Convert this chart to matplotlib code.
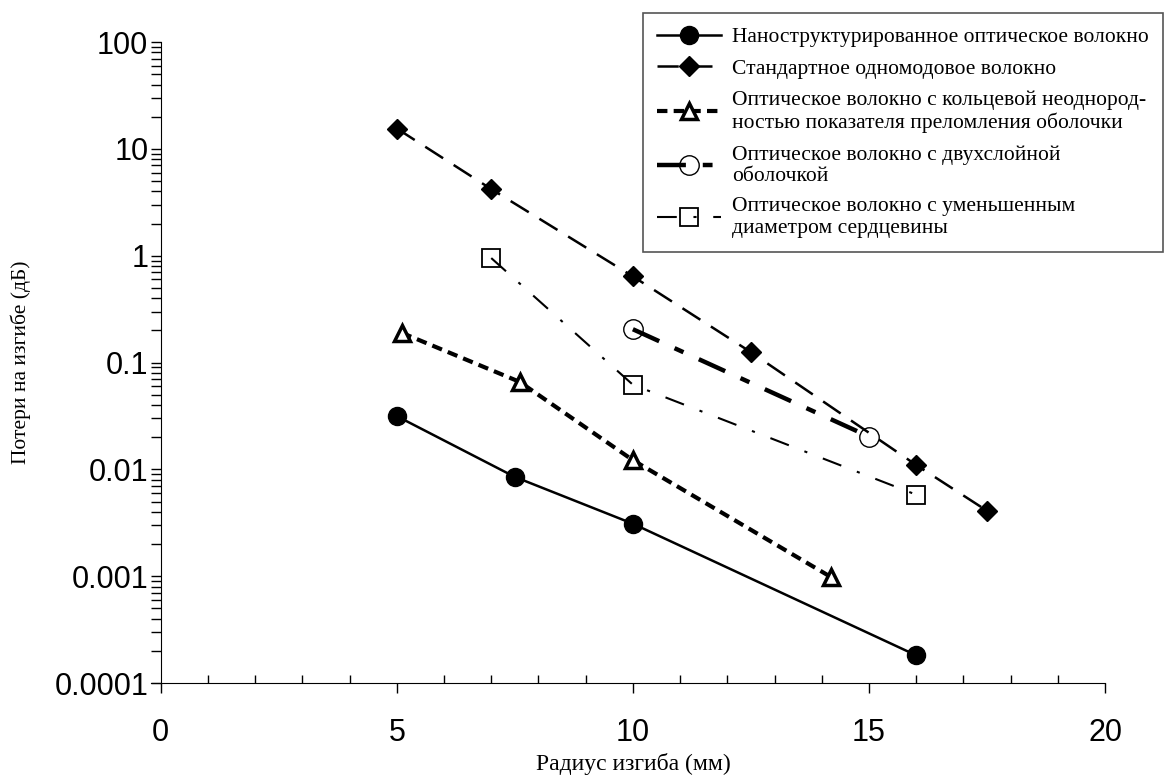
import matplotlib.pyplot as plt
import numpy as np
from matplotlib.ticker import FixedLocator, LogLocator, NullFormatter

# data
nano_x = [5, 7.5, 10, 16]
nano_y = [0.0315, 0.0085, 0.0031, 0.000182]

std_x = [5, 7, 10, 12.5, 16, 17.5]
std_y = [15.5, 4.2, 0.64, 0.125, 0.011, 0.0041]

ring_x = [5.1, 7.6, 10, 14.2]
ring_y = [0.19, 0.066, 0.0122, 0.00098]

dbl_x = [10, 15]
dbl_y = [0.205, 0.0203]

core_x = [7, 10, 16]
core_y = [0.95, 0.062, 0.0058]

labels = ["Наноструктурированное оптическое волокно",
          "Стандартное одномодовое волокно",
          "Оптическое волокно с кольцевой неоднород-\nностью показателя преломления оболочки",
          "Оптическое волокно с двухслойной\nоболочкой",
          "Оптическое волокно с уменьшенным\nдиаметром сердцевины"]

x_ticks = [0, 5, 10, 15, 20]
y_ticks = [0.0001, 0.001, 0.01, 0.1, 1, 10, 100]
y_tick_labels = ["0.0001", "0.001", "0.01", "0.1", "1", "10", "100"]

serif = "Liberation Serif"
sans = "Liberation Sans"

fig = plt.figure(figsize=(11.65, 7.78), dpi=100)
ax = fig.add_axes([0.138, 0.122, 0.8105, 0.824])

ax.plot(nano_x, nano_y, color='k', lw=1.8, marker='o', ms=13, label=labels[0])
ax.plot(std_x, std_y, color='k', lw=1.8, dashes=(8.5, 5), marker='D', ms=10.5,
        label=labels[1])
ax.plot(ring_x, ring_y, color='k', lw=3, dashes=(2.5, 1.5), marker='^', ms=11,
        mfc='white', mew=2.5, label=labels[2])
ax.plot(dbl_x, dbl_y, color='k', lw=3.2, dashes=(6.5, 3.8, 2.2, 3.8), marker='o',
        ms=14, mfc='none', mew=1, label=labels[3])
ax.plot(core_x, core_y, color='k', lw=1.5, dashes=(9.5, 8, 1.5, 8), marker='s',
        ms=13, mfc='none', mew=1.3, label=labels[4])

ax.set_yscale('log')
ax.set_xlim(0, 20)
ax.set_ylim(0.0001, 100)

ax.xaxis.set_minor_locator(FixedLocator(np.arange(0, 21, 1)))
ax.set_xticks(x_ticks)
ax.set_xticklabels([str(t) for t in x_ticks], fontfamily=sans, fontsize=22)
ax.set_yticks(y_ticks)
ax.set_yticklabels(y_tick_labels, fontfamily=sans, fontsize=22)
ax.yaxis.set_minor_locator(LogLocator(base=10, subs=np.arange(2, 10)))
ax.yaxis.set_minor_formatter(NullFormatter())

ax.tick_params(axis='x', which='major', direction='out', length=7, width=1, pad=18)
ax.tick_params(axis='x', which='minor', direction='in', length=6, width=1)
ax.tick_params(axis='y', which='both', direction='out', length=7, width=1, pad=2)

for s in ['top', 'right']:
    ax.spines[s].set_visible(False)
ax.spines['bottom'].set_bounds(-0.2, 20)

ax.set_xlabel("Радиус изгиба (мм)", fontfamily=serif, fontsize=17, labelpad=4)
ax.set_ylabel("Потери на изгибе (дБ)", fontfamily=serif, fontsize=15.5, labelpad=17)

leg = ax.legend(loc='upper right', bbox_to_anchor=(1.0614, 1.0452), borderaxespad=0,
                frameon=True, fancybox=False, edgecolor='#555555', framealpha=1,
                prop={'family': serif, 'size': 15.5}, handlelength=3.0,
                handletextpad=0.5, labelspacing=0.55, borderpad=0.65)
leg.get_frame().set_linewidth(1.2)
for t in leg.get_texts():
    t.set_linespacing(1.15)

fig.savefig('out.png', dpi=100)
